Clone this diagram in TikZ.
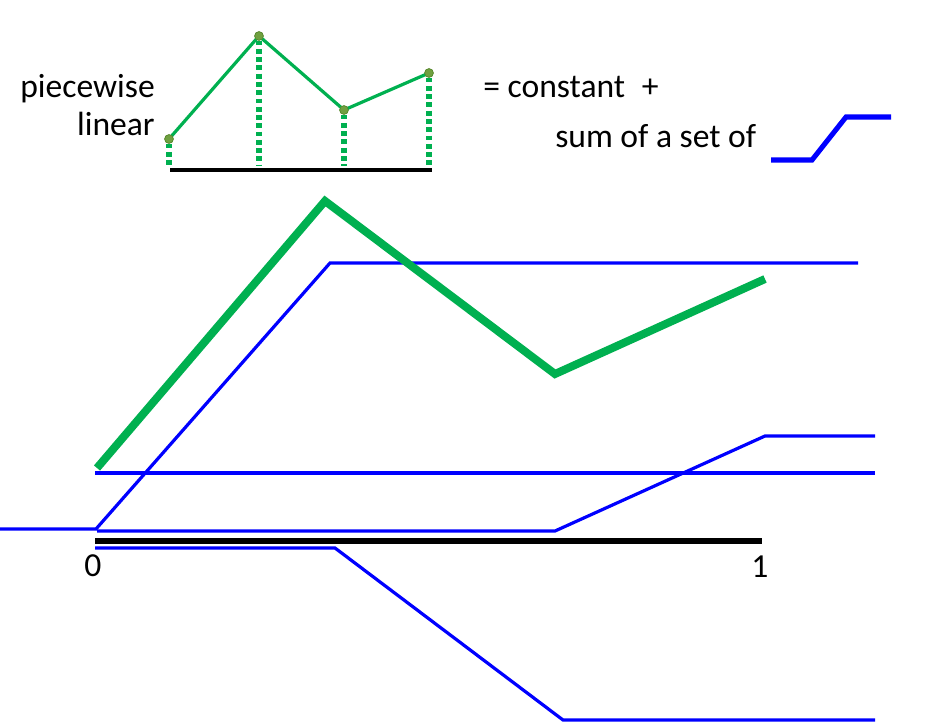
\documentclass[tikz,border=0pt]{standalone}
\usepackage{fontspec}
\setmainfont{Carlito}
\definecolor{pgreen}{HTML}{00B050}
\definecolor{dotgreen}{HTML}{70A040}
\definecolor{dotedge}{HTML}{5A8A30}
\definecolor{pblue}{HTML}{0000FF}
\begin{document}
\begin{tikzpicture}[x=0.75pt,y=-0.75pt,
  lbl/.style={inner sep=0pt,font=\fontsize{25.2}{30}\selectfont},
  smallgreen/.style={draw=pgreen,line width=2.4pt,line join=round},
  dropline/.style={draw=pgreen,line width=3.8pt,dash pattern=on 3.6pt off 2.6pt},
  knot/.style={circle,fill=dotgreen,draw=dotedge,line width=0.5pt,minimum size=6.5pt,inner sep=0pt},
  axisline/.style={draw=black,line width=4.5pt},
  smallaxis/.style={draw=black,line width=3.4pt},
  bigfun/.style={draw=pgreen,line width=6pt,line join=miter},
  ramp/.style={draw=pblue,line width=2.4pt,line join=miter},
  iconramp/.style={draw=pblue,line width=3.8pt,line join=miter}]
\useasboundingbox (0,0) rectangle (932,728);
% small graph
\node[knot] (k1) at (169,139) {};
\node[knot] (k2) at (259,36) {};
\node[knot] (k3) at (344,110) {};
\node[knot] (k4) at (429,73) {};
\coordinate (b1) at (169,166);
\coordinate (b2) at (259,166);
\coordinate (b3) at (344,166);
\coordinate (b4) at (429,166);
\coordinate (sa1) at (170,170);
\coordinate (sa2) at (432,170);
\draw[dropline] (k1.south) -- (b1);
\draw[dropline] (k2.south) -- (b2);
\draw[dropline] (k3.south) -- (b3);
\draw[dropline] (k4.south) -- (b4);
\draw[smallaxis] (sa1) -- (sa2);
\draw[smallgreen] (k1.center) -- (k2.center) -- (k3.center) -- (k4.center);
\node[knot] at (k1) {};
\node[knot] at (k2) {};
\node[knot] at (k3) {};
\node[knot] at (k4) {};
% texts
\node[lbl,anchor=base east] (t1) at (155,97) {piecewise};
\node[lbl,anchor=base east] (t2) at (155,135) {linear};
\node[lbl,anchor=base west] (t3) at (483,97) {= constant\hspace{0.5em}+};
\node[lbl,anchor=base west] (t4) at (555,147) {sum of a set of};
% icon
\coordinate (i1) at (771,160);
\coordinate (i2) at (812,160);
\coordinate (i3) at (846,117);
\coordinate (i4) at (891,117);
\draw[iconramp] (i1) -- (i2) -- (i3) -- (i4);
% big plot
\coordinate (g1) at (97,468);
\coordinate (g2) at (325,201);
\coordinate (g3) at (555,374);
\coordinate (g4) at (765,279);
\coordinate (c1) at (95,473);
\coordinate (c2) at (875,473);
\coordinate (r1a) at (0,529);
\coordinate (r1b) at (96,529);
\coordinate (r1c) at (330,263);
\coordinate (r1d) at (858,263);
\coordinate (r2a) at (97,531);
\coordinate (r2b) at (555,531);
\coordinate (r2c) at (765,436);
\coordinate (r2d) at (875,436);
\coordinate (r3a) at (95,548);
\coordinate (r3b) at (335,548);
\coordinate (r3c) at (563,720);
\coordinate (r3d) at (875,720);
\coordinate (ax1) at (95,541);
\coordinate (ax2) at (762,541);
\draw[ramp] (c1) -- (c2);
\draw[ramp] (r1a) -- (r1b) -- (r1c) -- (r1d);
\draw[ramp] (r2a) -- (r2b) -- (r2c) -- (r2d);
\draw[ramp] (r3a) -- (r3b) -- (r3c) -- (r3d);
\draw[axisline] (ax1) -- (ax2);
\draw[bigfun] (g1) -- (g2) -- (g3) -- (g4);
\node[lbl,anchor=base] (zero) at (93,576) {0};
\node[lbl,anchor=base] (one) at (760,577) {1};
\end{tikzpicture}
\end{document}
